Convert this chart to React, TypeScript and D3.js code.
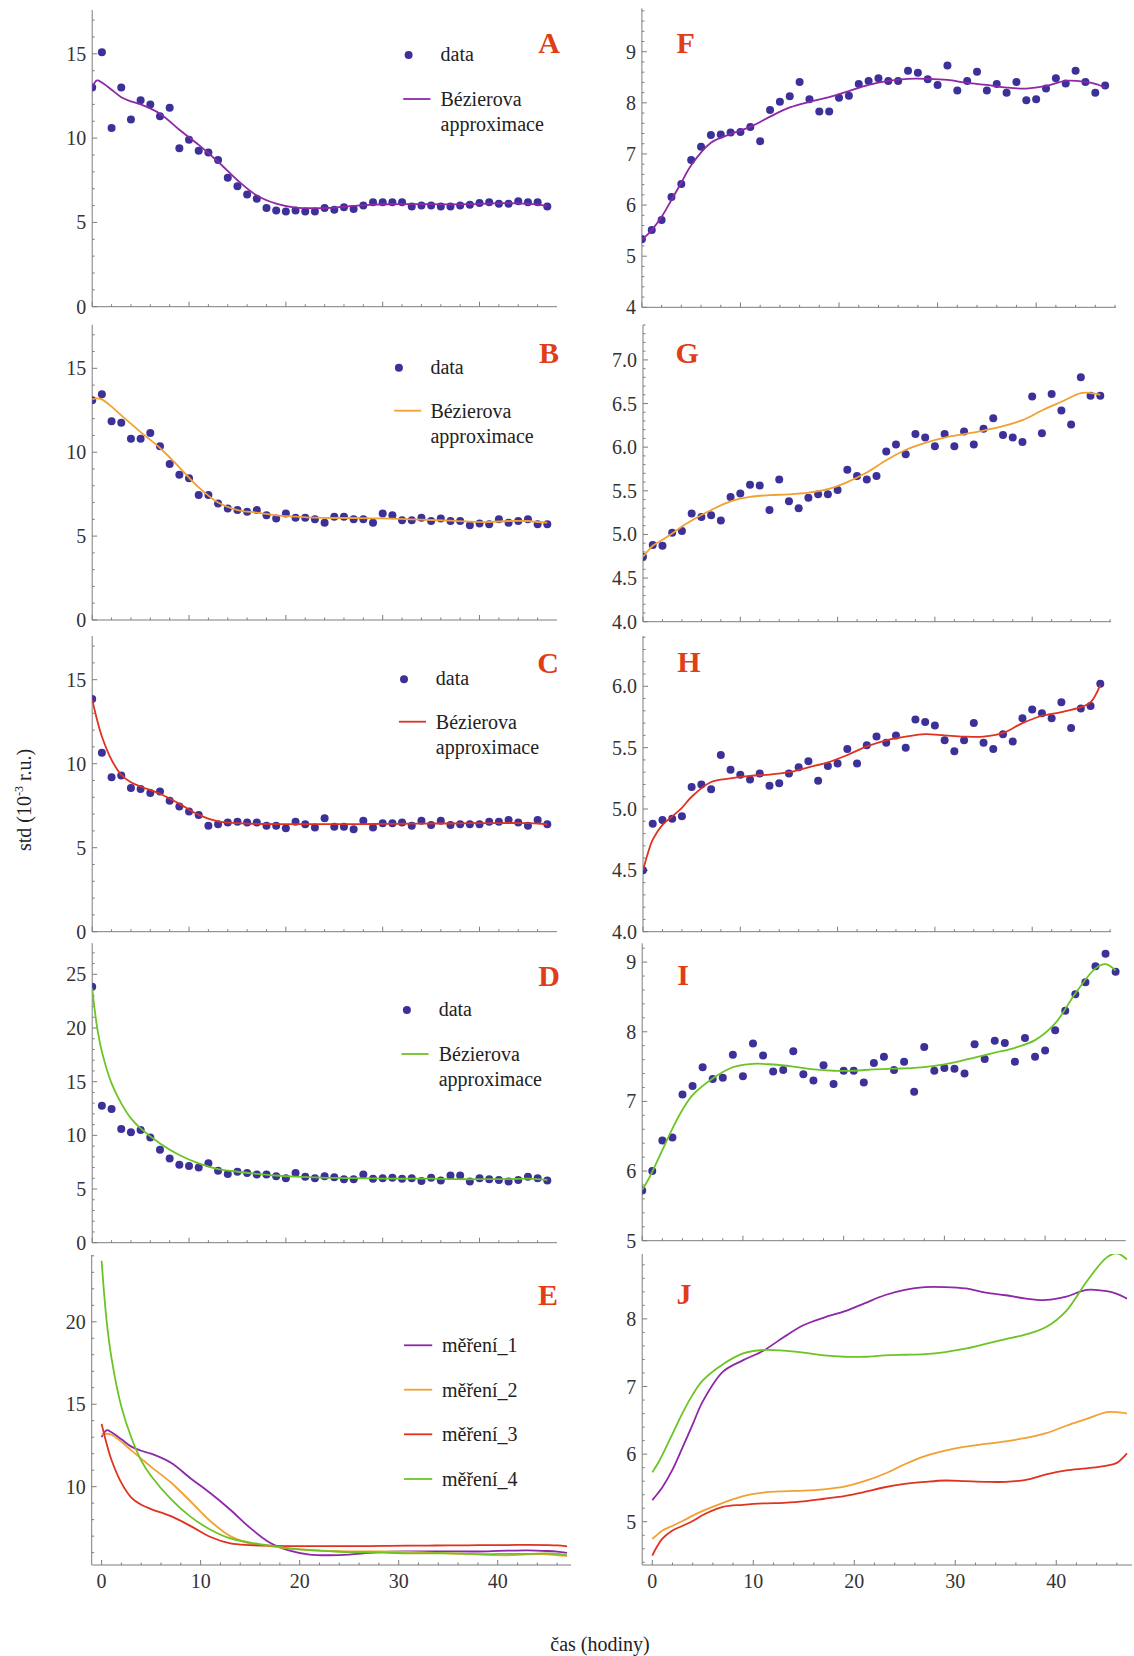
import React from 'react';
import * as d3 from 'd3';

// hours of the measurement (one point per hour)
const HOURS = d3.range(0, 48);
const FIT_X = [0, 0.5, 1, 2, 3, 4, 5, 7, 9, 11, 13, 15, 17, 19, 21, 23, 25, 27, 29, 31, 33, 35, 37, 39, 41, 43, 45, 46, 47];

// left column: measurements 1-4 (std, early phase)
const DATA_A = [13.0, 15.1, 10.6, 13.0, 11.1, 12.25, 12.0, 11.3, 11.8, 9.4, 9.9, 9.25, 9.15, 8.7, 7.65, 7.15, 6.65, 6.4, 5.85, 5.7, 5.65, 5.7, 5.65, 5.65, 5.85, 5.75, 5.9, 5.8, 6.0, 6.2, 6.2, 6.2, 6.2, 5.95, 6.0, 6.0, 5.95, 5.95, 6.0, 6.05, 6.15, 6.2, 6.1, 6.1, 6.25, 6.2, 6.2, 5.95];
const DATA_B = [13.1, 13.45, 11.85, 11.75, 10.8, 10.8, 11.15, 10.35, 9.3, 8.65, 8.45, 7.45, 7.45, 6.95, 6.65, 6.55, 6.45, 6.55, 6.25, 6.05, 6.35, 6.1, 6.1, 6.0, 5.8, 6.15, 6.15, 6.0, 6.0, 5.8, 6.35, 6.25, 5.95, 5.95, 6.1, 5.9, 6.05, 5.9, 5.9, 5.65, 5.75, 5.7, 6.0, 5.8, 5.9, 6.0, 5.7, 5.7];
const DATA_C = [13.85, 10.65, 9.2, 9.3, 8.55, 8.5, 8.25, 8.35, 7.8, 7.45, 7.15, 6.95, 6.3, 6.4, 6.5, 6.55, 6.5, 6.5, 6.3, 6.3, 6.15, 6.55, 6.4, 6.2, 6.75, 6.25, 6.25, 6.1, 6.6, 6.2, 6.45, 6.45, 6.5, 6.3, 6.6, 6.35, 6.6, 6.35, 6.4, 6.4, 6.4, 6.55, 6.55, 6.65, 6.5, 6.3, 6.65, 6.4];
const DATA_D = [23.85, 12.75, 12.45, 10.6, 10.3, 10.5, 9.8, 8.65, 7.85, 7.25, 7.15, 7.0, 7.4, 6.7, 6.4, 6.6, 6.5, 6.35, 6.35, 6.2, 6.0, 6.5, 6.15, 6.0, 6.2, 6.1, 5.9, 5.9, 6.35, 5.95, 6.0, 6.05, 5.95, 6.0, 5.75, 6.05, 5.8, 6.25, 6.25, 5.7, 6.0, 5.9, 5.85, 5.7, 5.85, 6.15, 6.0, 5.8];

// right column
const DATA_F = [5.33, 5.51, 5.71, 6.16, 6.41, 6.88, 7.14, 7.37, 7.38, 7.42, 7.43, 7.53, 7.25, 7.86, 8.02, 8.13, 8.41, 8.07, 7.83, 7.83, 8.1, 8.14, 8.37, 8.43, 8.48, 8.43, 8.43, 8.63, 8.59, 8.46, 8.35, 8.73, 8.24, 8.43, 8.61, 8.24, 8.37, 8.2, 8.41, 8.05, 8.07, 8.28, 8.48, 8.38, 8.63, 8.41, 8.2, 8.34];
const DATA_G = [4.745, 4.88, 4.87, 5.02, 5.04, 5.24, 5.2, 5.22, 5.16, 5.43, 5.47, 5.57, 5.56, 5.28, 5.63, 5.38, 5.3, 5.42, 5.46, 5.46, 5.51, 5.74, 5.67, 5.63, 5.67, 5.95, 6.03, 5.92, 6.15, 6.11, 6.01, 6.15, 6.01, 6.18, 6.03, 6.21, 6.33, 6.14, 6.11, 6.06, 6.58, 6.16, 6.61, 6.42, 6.26, 6.8, 6.59, 6.59];
const DATA_H = [4.5, 4.88, 4.91, 4.92, 4.94, 5.18, 5.2, 5.16, 5.44, 5.32, 5.28, 5.24, 5.29, 5.19, 5.21, 5.29, 5.34, 5.39, 5.23, 5.35, 5.37, 5.49, 5.37, 5.52, 5.59, 5.54, 5.6, 5.5, 5.73, 5.71, 5.68, 5.56, 5.47, 5.56, 5.7, 5.54, 5.49, 5.61, 5.55, 5.74, 5.81, 5.78, 5.74, 5.87, 5.66, 5.82, 5.84, 6.02];
const DATA_I = [5.72, 6.0, 6.44, 6.48, 7.1, 7.22, 7.49, 7.32, 7.34, 7.67, 7.36, 7.83, 7.66, 7.43, 7.45, 7.72, 7.39, 7.3, 7.52, 7.25, 7.44, 7.44, 7.27, 7.55, 7.64, 7.45, 7.57, 7.14, 7.78, 7.44, 7.48, 7.47, 7.4, 7.82, 7.61, 7.87, 7.84, 7.57, 7.91, 7.64, 7.73, 8.02, 8.3, 8.54, 8.71, 8.94, 9.12, 8.86];

// Bézier approximations, read at FIT_X
const FIT_A = [13.0, 13.42, 13.3, 12.87, 12.43, 12.18, 12.0, 11.45, 10.5, 9.6, 8.6, 7.5, 6.6, 6.12, 5.88, 5.84, 5.88, 5.98, 6.06, 6.08, 6.08, 6.08, 6.07, 6.08, 6.12, 6.14, 6.1, 6.06, 5.98];
const FIT_B = [13.15, 13.21, 13.15, 12.72, 12.2, 11.7, 11.2, 10.25, 9.1, 7.9, 7.0, 6.55, 6.4, 6.24, 6.16, 6.1, 6.08, 6.08, 6.06, 6.04, 6.0, 5.96, 5.92, 5.86, 5.84, 5.9, 5.9, 5.84, 5.8];
const FIT_C = [13.81, 12.62, 11.62, 10.23, 9.34, 8.9, 8.64, 8.21, 7.61, 6.95, 6.56, 6.46, 6.42, 6.4, 6.4, 6.4, 6.4, 6.4, 6.41, 6.42, 6.43, 6.44, 6.44, 6.46, 6.46, 6.47, 6.46, 6.44, 6.38];
const FIT_D = [23.7, 20.1, 17.8, 14.84, 12.98, 11.58, 10.65, 9.25, 8.17, 7.39, 6.86, 6.61, 6.42, 6.26, 6.15, 6.09, 6.03, 6.02, 5.99, 5.96, 5.96, 5.96, 5.93, 5.91, 5.93, 5.93, 5.96, 5.93, 5.84];
const FIT_F = [5.32, 5.41, 5.51, 5.77, 6.1, 6.44, 6.78, 7.22, 7.39, 7.53, 7.73, 7.91, 8.02, 8.11, 8.23, 8.35, 8.43, 8.47, 8.47, 8.45, 8.39, 8.35, 8.3, 8.28, 8.33, 8.43, 8.41, 8.37, 8.3];
const FIT_G = [4.745, 4.81, 4.87, 4.94, 5.01, 5.09, 5.16, 5.28, 5.38, 5.43, 5.45, 5.46, 5.48, 5.52, 5.6, 5.71, 5.85, 5.97, 6.05, 6.11, 6.15, 6.19, 6.24, 6.31, 6.42, 6.52, 6.62, 6.62, 6.6];
const FIT_H = [4.5, 4.64, 4.75, 4.87, 4.94, 5.01, 5.1, 5.22, 5.25, 5.27, 5.28, 5.3, 5.34, 5.38, 5.44, 5.51, 5.56, 5.59, 5.61, 5.6, 5.59, 5.59, 5.62, 5.7, 5.76, 5.79, 5.83, 5.87, 6.01];
const FIT_I = [5.73, 5.85, 5.99, 6.3, 6.61, 6.88, 7.09, 7.33, 7.49, 7.54, 7.53, 7.5, 7.46, 7.44, 7.44, 7.46, 7.47, 7.48, 7.51, 7.56, 7.63, 7.7, 7.77, 7.88, 8.12, 8.55, 8.91, 8.97, 8.88];

// tick labels
const TICKS_ABC = [0, 5, 10, 15];
const TICKS_D = [0, 5, 10, 15, 20, 25];
const TICKS_E = [10, 15, 20];
const TICKS_F = [4, 5, 6, 7, 8, 9];
const TICKS_G = [4, 4.5, 5, 5.5, 6, 6.5, 7];
const TICKS_H = [4, 4.5, 5, 5.5, 6];
const TICKS_I = [5, 6, 7, 8, 9];
const TICKS_J = [5, 6, 7, 8];
const X_TICKS = [0, 10, 20, 30, 40];
const SERIES_NAMES = ['měření_1', 'měření_2', 'měření_3', 'měření_4'];

const PURPLE = '#8e27a8';
const ORANGE = '#f2a031';
const RED = '#e0321f';
const GREEN = '#6cc424';
const SERIES_COLORS = [PURPLE, ORANGE, RED, GREEN];
const DOT = '#3b3199';
const LETTER = '#df3e17';
const AXIS = '#7d7d7d';
const FONT = '"Liberation Serif", "Times New Roman", serif';

const fitLegend = (color, dotX, dotY, x1, x2, lineY, textX) => ({ type: 'fit', color, dotX, dotY, x1, x2, lineY, textX });

const PANELS = [
  { key: 'A', xDomain: [0, 48], xRange: [92.2, 557], yDomain: [0, 17.6], yRange: [306.7, 10], ticks: TICKS_ABC, minor: 1, data: DATA_A, fits: [FIT_A], colors: [PURPLE], letter: [549, 53, 'middle'], legend: fitLegend(PURPLE, 408.6, 55, 403.2, 430.4, 99, 440.5) },
  { key: 'B', xDomain: [0, 48], xRange: [92.2, 557], yDomain: [0, 17.6], yRange: [620, 324.7], ticks: TICKS_ABC, minor: 1, data: DATA_B, fits: [FIT_B], colors: [ORANGE], letter: [549, 363.3, 'middle'], legend: fitLegend(ORANGE, 398.9, 367.7, 394.2, 421.3, 410.7, 430.4) },
  { key: 'C', xDomain: [0, 48], xRange: [92.2, 557], yDomain: [0, 17.6], yRange: [931.7, 636], ticks: TICKS_ABC, minor: 1, data: DATA_C, fits: [FIT_C], colors: [RED], letter: [548, 672.7, 'middle'], legend: fitLegend(RED, 404, 679.3, 398.9, 426, 721.7, 435.8) },
  { key: 'D', xDomain: [0, 48], xRange: [92.2, 557], yDomain: [0, 27.9], yRange: [1242.7, 943.2], ticks: TICKS_D, minor: 1, data: DATA_D, fits: [FIT_D], colors: [GREEN], letter: [549, 986, 'middle'], legend: fitLegend(GREEN, 406.9, 1010, 401.4, 428.6, 1054, 438.7) },
  { key: 'E', xDomain: [-1, 47.4], xRange: [91.7, 571], yDomain: [5.25, 24.05], yRange: [1565, 1255], ticks: TICKS_E, minor: 1, data: null, fits: [FIT_A, FIT_B, FIT_C, FIT_D], colors: SERIES_COLORS, letter: [548, 1305, 'middle'], legend: { type: 'all', x1: 404, x2: 432.2, rows: [1345.3, 1389.7, 1434.3, 1479], textX: 442 }, xLabels: true },
  { key: 'F', xDomain: [0, 48.1], xRange: [641.9, 1116], yDomain: [4, 9.85], yRange: [307.3, 8.3], ticks: TICKS_F, minor: 0.2, data: DATA_F, fits: [FIT_F], colors: [PURPLE], letter: [676.6, 52.7, 'start'] },
  { key: 'G', xDomain: [0, 48.1], xRange: [643, 1111], yDomain: [4, 7.4], yRange: [621.7, 325], ticks: TICKS_G, minor: 0.1, fmt: '.1f', data: DATA_G, fits: [FIT_G], colors: [ORANGE], letter: [675.5, 363.3, 'start'] },
  { key: 'H', xDomain: [0, 48.1], xRange: [643, 1111], yDomain: [4, 6.41], yRange: [931.7, 636], ticks: TICKS_H, minor: 0.1, fmt: '.1f', data: DATA_H, fits: [FIT_H], colors: [RED], letter: [677.3, 671.7, 'start'] },
  { key: 'I', xDomain: [0, 48], xRange: [642.2, 1125.7], yDomain: [5, 9.27], yRange: [1240.7, 943.3], ticks: TICKS_I, minor: 0.2, data: DATA_I, fits: [FIT_I], colors: [GREEN], letter: [677.3, 985, 'start'] },
  { key: 'J', xDomain: [-1, 47.5], xRange: [642.2, 1132], yDomain: [4.36, 8.96], yRange: [1565, 1254], ticks: TICKS_J, minor: 0.2, data: null, fits: [FIT_F, FIT_G, FIT_H, FIT_I], colors: SERIES_COLORS, letter: [676.6, 1304, 'start'], xLabels: true },
];

function minorTicks(domain: number[], step: number) {
  const start = Math.ceil(domain[0] / step - 1e-9);
  const end = Math.floor(domain[1] / step + 1e-9);
  return d3.range(start, end + 1).map(k => +(k * step).toFixed(4));
}

function Panel({ p }) {
  const x = d3.scaleLinear().domain(p.xDomain).range(p.xRange);
  const y = d3.scaleLinear().domain(p.yDomain).range(p.yRange);
  // smooth curve through the read-off fit values
  const line = d3.line<number>()
    .x((_, i) => x(FIT_X[i]))
    .y(v => y(v))
    .curve(d3.curveCatmullRom.alpha(0.5));
  const fmt = p.fmt ? d3.format(p.fmt) : d3.format('d');
  const x0 = p.xRange[0];
  const yb = p.yRange[0];
  const clipId = 'clip-' + p.key;
  const xMinor = d3.range(0, p.xDomain[1], 2);
  const majors = new Set(p.ticks.map(t => t.toFixed(3)));

  return (
    <g>
      <defs>
        <clipPath id={clipId}>
          <rect x={x0} y={p.yRange[1]} width={p.xRange[1] - x0} height={yb - p.yRange[1]} />
        </clipPath>
      </defs>

      {/* axes */}
      <line x1={x0} x2={p.xRange[1]} y1={yb} y2={yb} stroke={AXIS} strokeWidth={1} />
      <line x1={x0} x2={x0} y1={yb} y2={p.yRange[1]} stroke={AXIS} strokeWidth={1} />
      {xMinor.map(t => (
        <line key={'xt' + t} x1={x(t)} x2={x(t)} y1={yb} y2={yb - (t % 10 === 0 ? 5 : 2.5)} stroke={AXIS} />
      ))}
      {minorTicks(p.yDomain, p.minor).map(t => (
        <line key={'yt' + t} x1={x0} x2={x0 + (majors.has(t.toFixed(3)) ? 5 : 2.5)} y1={y(t)} y2={y(t)} stroke={AXIS} />
      ))}
      {p.ticks.map(t => (
        <text key={'yl' + t} x={x0 - 6} y={y(t)} dy="0.35em" textAnchor="end" fontSize={20} fill="#333">{fmt(t)}</text>
      ))}
      {p.xLabels && X_TICKS.map(t => (
        <text key={'xl' + t} x={x(t)} y={1588} textAnchor="middle" fontSize={20} fill="#333">{t}</text>
      ))}

      <g clipPath={`url(#${clipId})`}>
        {p.data && p.data.map((v, i) => (
          <circle key={'d' + i} cx={x(HOURS[i])} cy={y(v)} r={4} fill={DOT} />
        ))}
        {p.fits.map((f, k) => (
          <path key={'f' + k} d={line(f) || ''} fill="none" stroke={p.colors[k]} strokeWidth={1.8} />
        ))}
      </g>

      <text x={p.letter[0]} y={p.letter[1]} textAnchor={p.letter[2]} fontSize={30} fontWeight="bold" fill={LETTER}>{p.key}</text>

      {p.legend && p.legend.type === 'fit' && (
        <g fontSize={20} fill="#222">
          <circle cx={p.legend.dotX} cy={p.legend.dotY} r={4} fill={DOT} />
          <text x={p.legend.textX} y={p.legend.dotY + 6}>data</text>
          <line x1={p.legend.x1} x2={p.legend.x2} y1={p.legend.lineY} y2={p.legend.lineY} stroke={p.legend.color} strokeWidth={1.8} />
          <text x={p.legend.textX} y={p.legend.lineY + 7}>Bézierova</text>
          <text x={p.legend.textX} y={p.legend.lineY + 32}>approximace</text>
        </g>
      )}
      {p.legend && p.legend.type === 'all' && (
        <g fontSize={20} fill="#222">
          {p.legend.rows.map((ry, k) => (
            <g key={'lg' + k}>
              <line x1={p.legend.x1} x2={p.legend.x2} y1={ry} y2={ry} stroke={SERIES_COLORS[k]} strokeWidth={1.8} />
              <text x={p.legend.textX} y={ry + 7}>{SERIES_NAMES[k]}</text>
            </g>
          ))}
        </g>
      )}
    </g>
  );
}

export default function App() {
  return (
    <svg
      width={1134}
      height={1656}
      viewBox="0 0 1134 1656"
      style={{ position: 'absolute', left: 0, top: 0, background: '#fff', fontFamily: FONT }}
    >
      <rect width={1134} height={1656} fill="#fff" />
      {PANELS.map(p => <Panel key={p.key} p={p} />)}
      <text transform="translate(31,800) rotate(-90)" textAnchor="middle" fontSize={20} fill="#222">
        std (10<tspan fontSize={12} dy={-8}>-3</tspan><tspan dy={8}> r.u.)</tspan>
      </text>
      <text x={600} y={1651} textAnchor="middle" fontSize={20} fill="#222">čas (hodiny)</text>
    </svg>
  );
}
